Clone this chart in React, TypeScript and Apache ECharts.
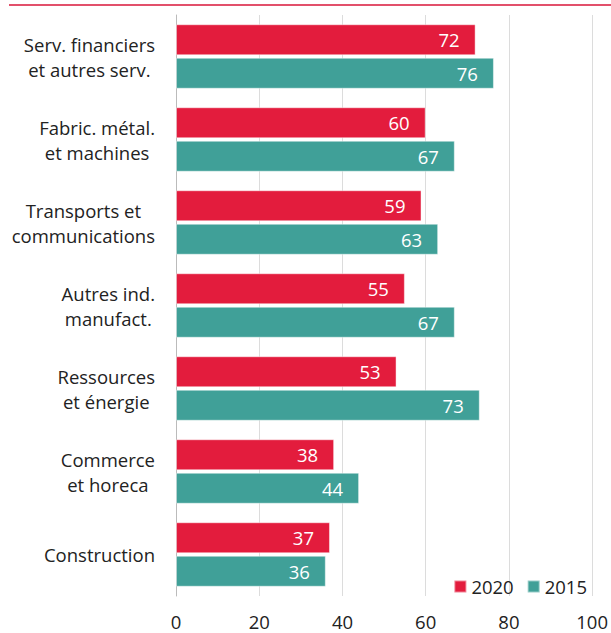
import React, { useEffect, useRef } from "react";
import * as echarts from "echarts";

const categories = [
  "Serv. financiers\net autres serv.",
  "Fabric. métal.\net machines",
  "Transports et\ncommunications",
  "Autres ind.\nmanufact.",
  "Ressources\net énergie",
  "Commerce\net horeca",
  "Construction",
];
const values2020 = [72, 60, 59, 55, 53, 38, 37];
const values2015 = [76.4, 67, 63, 67, 73, 44, 36];
const xTicks = { min: 0, max: 100, interval: 20 };

const RED = "#E31C3D";
const TEAL = "#40A098";
const FONT = "'Open Sans', sans-serif";
const FS = 18.5;

export default function App() {
  const ref = useRef<HTMLDivElement>(null);
  useEffect(() => {
    if (!ref.current) return;
    const chart = echarts.init(ref.current, undefined, { renderer: "svg" });
    const labelCfg = {
      show: true,
      position: "insideRight",
      distance: 16,
      color: "#fff",
      fontSize: FS,
      fontFamily: FONT,
      formatter: (p: any) => String(Math.round(p.value)),
    };
    const itemBorder = { borderColor: "rgba(255,255,255,0.45)", borderWidth: 1 };
    chart.setOption({
      animation: false,
      textStyle: { fontFamily: FONT },
      graphic: [
        {
          type: "line",
          shape: { x1: 9, y1: 5, x2: 611, y2: 5 },
          style: { stroke: "#E2506B", lineWidth: 2 },
        },
      ],
      legend: {
        right: 19,
        top: 572,
        icon: "rect",
        itemWidth: 12,
        itemHeight: 12,
        itemGap: 13,
        textStyle: { fontSize: FS, color: "#222", fontFamily: FONT },
        data: ["2020", "2015"],
      },
      grid: { left: 176, top: 15, width: 421.5, bottom: 37, containLabel: false },
      xAxis: {
        type: "value",
        min: xTicks.min,
        max: xTicks.max,
        interval: xTicks.interval,
        axisLine: { show: false },
        axisTick: { show: false },
        splitLine: { lineStyle: { color: "#dcdcdc", width: 1 } },
        axisLabel: { fontSize: FS, color: "#222", margin: 16, fontFamily: FONT },
      },
      yAxis: {
        type: "category",
        inverse: true,
        data: categories,
        axisLine: { lineStyle: { color: "#bbbbbb", width: 1 } },
        axisTick: { length: 6, lineStyle: { color: "#bbbbbb" } },
        axisLabel: {
          margin: 21,
          color: "#222",
          fontSize: FS,
          fontFamily: FONT,
          lineHeight: 25,
          formatter: (v: string) =>
            v
              .split("\n")
              .map((l) => `{c|${l}}`)
              .join("\n"),
          rich: {
            c: { align: "center", fontSize: FS, lineHeight: 25, color: "#222", fontFamily: FONT },
          },
        },
      },
      series: [
        {
          name: "2020",
          type: "bar",
          data: values2020,
          barWidth: 31,
          barGap: "8%",
          itemStyle: { color: RED, ...itemBorder },
          label: labelCfg,
        },
        {
          name: "2015",
          type: "bar",
          data: values2015,
          barWidth: 31,
          barGap: "8%",
          itemStyle: { color: TEAL, ...itemBorder },
          label: labelCfg,
        },
      ],
    });
    return () => chart.dispose();
  }, []);
  return (
    <div
      ref={ref}
      style={{ position: "fixed", left: 0, top: 0, width: 611, height: 633, background: "#fff" }}
    />
  );
}
